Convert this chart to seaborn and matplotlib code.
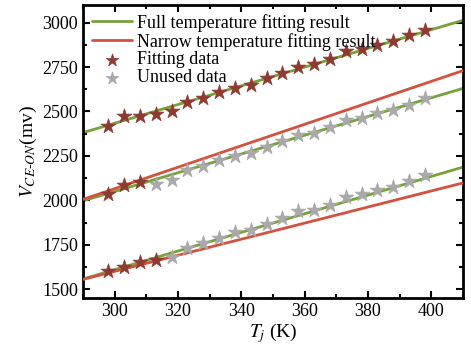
import numpy as np
import pandas as pd
import matplotlib
matplotlib.use("Agg")
import matplotlib.pyplot as plt
import seaborn as sns

# junction temperature (K)
temps = [298, 303, 308, 313, 318, 323, 328, 333, 338, 343, 348,
         353, 358, 363, 368, 373, 378, 383, 388, 393, 398]

# measured V_CE-ON (mv) for the three current levels
v_high = [2419, 2472, 2472, 2485, 2502, 2551, 2575, 2608, 2632, 2649, 2689,
          2717, 2753, 2768, 2796, 2840, 2853, 2872, 2896, 2928, 2957]
v_mid = [2036, 2089, 2102, 2093, 2117, 2168, 2192, 2225, 2249, 2268, 2300,
         2334, 2366, 2381, 2410, 2451, 2466, 2491, 2508, 2538, 2574]
v_low = [1602, 1623, 1655, 1664, 1683, 1730, 1759, 1790, 1819, 1834, 1867,
         1900, 1938, 1947, 1975, 2019, 2038, 2056, 2076, 2106, 2145]

# how many of the first points were used for the narrow fit
n_fit = [21, 3, 4]

# fitting lines, values at the x-axis limits
line_t = [290, 410]
full_fit = [[2381, 3013], [1997, 2630], [1557, 2187]]
narrow_fit = [None, [2005, 2730], [1555, 2098]]

green = "#77a13a"
red = "#d4503f"
star_red = "#8e3a33"
star_gray = "#a9a9a9"

sns.set_style("ticks")
plt.rcParams["font.family"] = ["Liberation Serif", "DejaVu Serif"]
plt.rcParams["mathtext.fontset"] = "stix"
plt.rcParams["font.size"] = 12
for k in ["axes.edgecolor", "text.color", "axes.labelcolor", "xtick.color", "ytick.color"]:
    plt.rcParams[k] = "black"

fig, ax = plt.subplots(figsize=(4.71, 3.49), dpi=100)
fig.subplots_adjust(left=0.176, right=0.983, top=0.986, bottom=0.146)

for i in range(3):
    if narrow_fit[i] is not None:
        sns.lineplot(x=line_t, y=narrow_fit[i], color=red, lw=2, ax=ax,
                     label="Narrow temperature fitting result" if i == 1 else None, zorder=3)
    sns.lineplot(x=line_t, y=full_fit[i], color=green, lw=2, ax=ax,
                 label="Full temperature fitting result" if i == 0 else None, zorder=2)

for i, vals in enumerate([v_high, v_mid, v_low]):
    df = pd.DataFrame({"T": temps, "V": vals})
    used = df.iloc[:n_fit[i]]
    unused = df.iloc[n_fit[i]:]
    sns.scatterplot(data=used, x="T", y="V", marker="*", s=125, color=star_red,
                    edgecolor=star_red, linewidth=0.5, ax=ax, zorder=5,
                    label="Fitting data" if i == 0 else None)
    if len(unused):
        sns.scatterplot(data=unused, x="T", y="V", marker="*", s=125, color=star_gray,
                        edgecolor=star_gray, linewidth=0.5, ax=ax, zorder=5,
                        label="Unused data" if i == 1 else None)

ax.set_xlim(290, 410)
ax.set_ylim(1450, 3100)
ax.set_xticks([300, 320, 340, 360, 380, 400])
ax.set_xticks(np.arange(290, 411, 10), minor=True)
ax.set_yticks([1500, 1750, 2000, 2250, 2500, 2750, 3000])
ax.set_yticks(np.arange(1500, 3100, 125), minor=True)
ax.tick_params(which="both", direction="in", top=True, right=True, width=1.5, labelsize=13)
ax.tick_params(which="major", length=5)
ax.tick_params(which="minor", length=3)
for sp in ax.spines.values():
    sp.set_linewidth(2)

ax.set_xlabel("$T_j$ (K)", fontsize=14, labelpad=1)
ax.set_ylabel("$V_{CE\\text{-}ON}$(mv)", fontsize=14, labelpad=2)

h, l = ax.get_legend_handles_labels()
order = ["Full temperature fitting result", "Narrow temperature fitting result",
         "Fitting data", "Unused data"]
hd = dict(zip(l, h))
ax.legend([hd[k] for k in order], order, loc="upper left", frameon=False,
          fontsize=13, handlelength=2.2, handletextpad=0.3, labelspacing=0.05,
          borderaxespad=0.3, borderpad=0.2, markerscale=0.85)

fig.savefig("out.png", dpi=100)
